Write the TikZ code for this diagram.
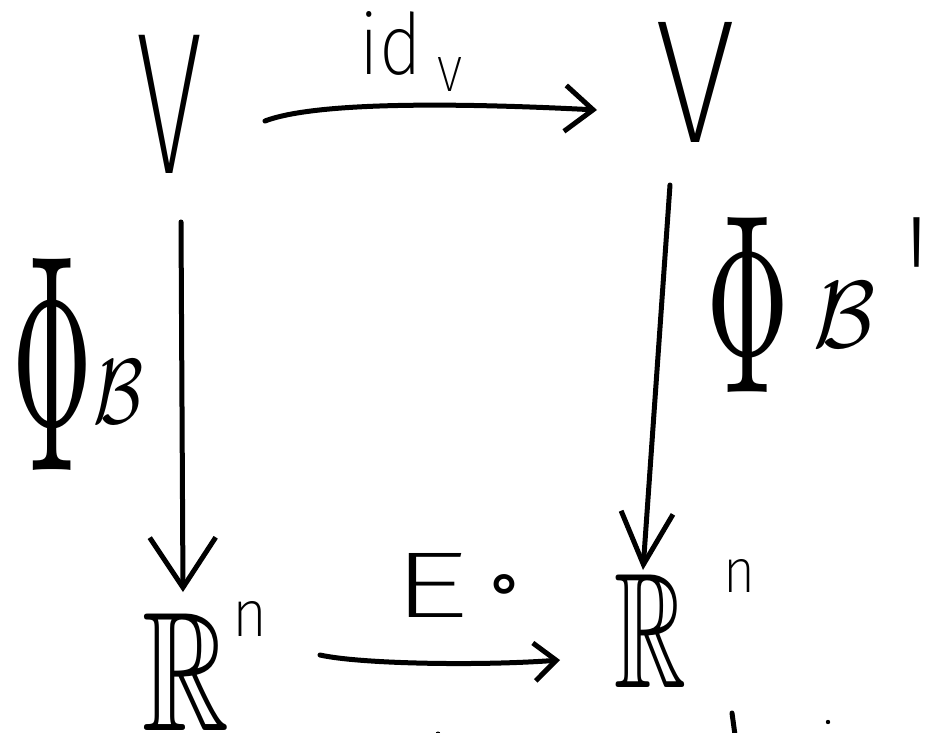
\documentclass[tikz,border=0pt]{standalone}
\usepackage{fontspec}
\usepackage{amssymb}
\usepackage{graphicx}
\usetikzlibrary{arrows.meta}
\IfFontExistsTF{Fira Sans ExtraLight}{\newfontfamily\hand{Fira Sans ExtraLight}[Ligatures=TeXOff]}{%
 \IfFontExistsTF{Fira Sans Light}{\newfontfamily\hand{Fira Sans Light}[Ligatures=TeXOff]}{%
  \IfFontExistsTF{Fira Sans Thin}{\newfontfamily\hand{Fira Sans Thin}[Ligatures=TeXOff]}{%
   \IfFontExistsTF{Lato Light}{\newfontfamily\hand{Lato Light}[Ligatures=TeXOff]}{%
     \newfontfamily\hand{DejaVu Sans}[Ligatures=TeXOff]}}}}
\newfontfamily\deja{DejaVu Sans}
\newcommand{\fitbox}[3]{\resizebox{#1pt}{#2pt}{#3}}
\begin{document}
\begin{tikzpicture}[x=1pt,y=-1pt,
  glyph/.style={inner sep=0pt, outer sep=0pt, anchor=center},
  stroke/.style={line width=5pt, line cap=round, line join=round},
  conn/.style={stroke}]
\useasboundingbox (0,0) rectangle (930,733);
\fill[white] (0,0) rectangle (930,733);
% objects
\node[glyph] (vl) at (170,104) {\fitbox{66}{138}{\hand V}};
\node[glyph] (vr) at (695,82) {\fitbox{80}{120}{\hand V}};
\node[glyph] (rl) at (186.5,671.5) {\fitbox{87}{117}{$\mathbb{R}$}};
\node[glyph] (nl) at (250,619) {\fitbox{35}{35}{\hand n}};
\node[glyph] (rr) at (651,631) {\fitbox{72}{113}{$\mathbb{R}$}};
\node[glyph] (nr) at (739,576) {\fitbox{32}{33}{\hand n}};
% labels
\node[glyph] (id) at (391,43.5) {\fitbox{62}{63}{\hand id}};
\node[glyph] (idv) at (449.5,75) {\fitbox{25}{34}{\hand V}};
\node[glyph] (phil) at (53,364) {\fitbox{80}{212}{$\Phi$}};
\node[glyph] (bl) at (119,391.5) {\fitbox{50}{63}{$\mathcal{B}$}};
\node[glyph] (phir) at (748.5,304.5) {\fitbox{83}{175}{$\Phi$}};
\node[glyph] (br) at (844,314.5) {\fitbox{62}{65}{$\mathcal{B}$}};
\node[glyph, anchor=north] (pr) at (917,218) {\scalebox{1}[1.6]{\fontsize{125}{125}\selectfont\hand '}};
\node[glyph] (e) at (431,585) {\fitbox{78}{64}{\hand E}};
\node[glyph] (comp) at (505,589) {\fitbox{40}{29}{\deja\bfseries ∘}};
% connectors
\draw[conn, -{Straight Barb[length=28pt,width=46pt]}]
  ([shift={(95,17)}]vl.center) .. controls ([shift={(150,-4)}]vl.center) and ([shift={(-215,22)}]vr.center) .. ([shift={(-98,28)}]vr.center);
\draw[conn, -{Straight Barb[length=50pt,width=66pt]}]
  ([shift={(11,118)}]vl.center) -- ([shift={(-3.5,-79.5)}]rl.center);
\draw[conn, -{Straight Barb[length=52pt,width=52pt]}]
  ([shift={(-25,103)}]vr.center) -- ([shift={(-8,-61)}]rr.center);
\draw[conn, -{Straight Barb[length=22pt,width=38pt]}]
  ([shift={(133.5,-16.5)}]rl.center) .. controls ([shift={(173.5,-7.5)}]rl.center) and ([shift={(-171,35)}]rr.center) .. ([shift={(-91,29)}]rr.center);
% stray marks at the lower edge
\draw[stroke] (732,713) -- (735,735);
\fill (828,722) circle (2.2);
\fill (438,734) circle (2.5);
\end{tikzpicture}
\end{document}
